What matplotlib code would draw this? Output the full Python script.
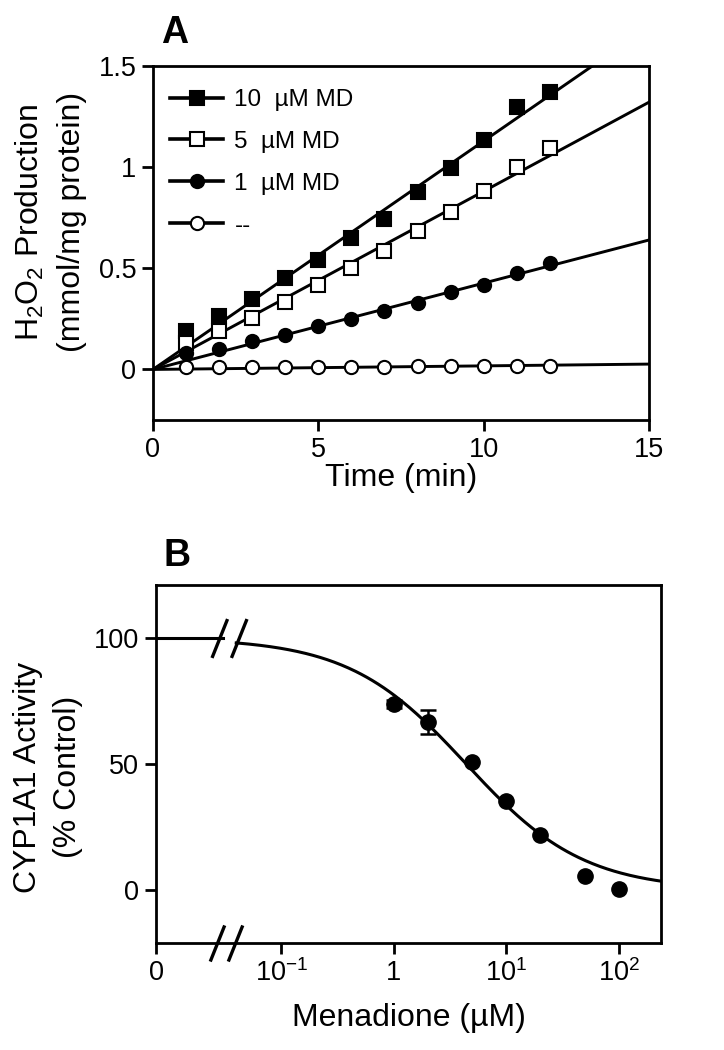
import numpy as np
import matplotlib
matplotlib.use('Agg')
import matplotlib.pyplot as plt
from matplotlib.lines import Line2D
from matplotlib.path import Path

plt.rcParams['font.family'] = ['Liberation Sans', 'DejaVu Sans']
plt.rcParams['mathtext.fontset'] = 'custom'
plt.rcParams['mathtext.rm'] = 'Liberation Sans'
plt.rcParams['mathtext.it'] = 'Liberation Sans:italic'
plt.rcParams['mathtext.bf'] = 'Liberation Sans:bold'

# panel A: H2O2 production vs time
time_min = np.arange(1, 13)
md10 = [0.192, 0.266, 0.348, 0.451, 0.541, 0.648, 0.743, 0.877, 0.995, 1.134, 1.295, 1.372]
md5 = [0.131, 0.189, 0.254, 0.331, 0.415, 0.500, 0.585, 0.685, 0.779, 0.882, 1.003, 1.095]
md1 = [0.082, 0.102, 0.139, 0.172, 0.213, 0.249, 0.287, 0.328, 0.382, 0.418, 0.475, 0.525]
md0 = [0.014, 0.014, 0.014, 0.014, 0.014, 0.014, 0.014, 0.015, 0.015, 0.015, 0.015, 0.015]
labels_a = ['10  \u00b5M MD', '5  \u00b5M MD', '1  \u00b5M MD', '--']

# panel B: CYP1A1 activity vs menadione
dose = [1, 2, 5, 10, 20, 50, 100]
activity = [73.9, 66.8, 50.7, 35.5, 21.8, 5.5, 0.3]
activity_err = [1.5, 4.8, 0, 0, 0, 0, 0]
control_activity = 100
ic50 = 4.4
hill = 0.83

fig = plt.figure(figsize=(7.24, 10.5), dpi=100)

# ---------------- panel A
ax1 = fig.add_axes([153 / 724, 1 - 420 / 1050, (649 - 153) / 724, (420 - 66) / 1050])
xfit = np.linspace(0, 15, 200)
styles = [('s', 'k'), ('s', 'white'), ('o', 'k'), ('o', 'white')]
handles = []
for ys, (mk, fc), lab in zip([md10, md5, md1, md0], styles, labels_a):
    ys = np.array(ys)
    slope = np.sum(time_min * ys) / np.sum(time_min ** 2)
    ax1.plot(xfit, slope * xfit, color='k', lw=2.1, zorder=2)
    ax1.plot(time_min, ys, linestyle='none', marker=mk, ms=10.5 if mk == 's' else 9.5,
             mfc=fc, mec='k', mew=1.5, zorder=3, clip_on=False)
    handles.append(Line2D([], [], color='k', lw=2.6, marker=mk, ms=10.5 if mk == 's' else 9.5,
                          mfc=fc, mec='k', mew=1.5, label=lab))

ax1.set_xlim(0, 15)
ax1.set_ylim(-0.25, 1.5)
ax1.set_xticks([0, 5, 10, 15])
ax1.set_xticklabels(['0', '5', '10', '15'])
ax1.set_yticks([0, 0.5, 1, 1.5])
ax1.set_yticklabels(['0', '0.5', '1', '1.5'])
leg = ax1.legend(handles=handles, loc='upper left', bbox_to_anchor=(0.0, 0.983),
                 frameon=False, fontsize=17.5, handlelength=2.2, handletextpad=0.45,
                 labelspacing=0.82, borderaxespad=0.3, borderpad=0.4, numpoints=1)

fig.text(30 / 724, 1 - 222 / 1050, 'H$_2$O$_2$ Production', rotation=90,
         fontsize=23, ha='center', va='center')
fig.text(72 / 724, 1 - 222 / 1050, '(mmol/mg protein)', rotation=90,
         fontsize=23, ha='center', va='center')
fig.text(175 / 724, 1 - 33 / 1050, 'A', fontsize=27, fontweight='bold', ha='center', va='center')

# ---------------- panel B
zero_pos = -2.113
right_pos = 2.374
ax2 = fig.add_axes([156 / 724, 1 - 943 / 1050, (661 - 156) / 724, (943 - 585) / 1050])
xc = np.linspace(-1.40, right_pos, 300)
curve = control_activity / (1 + (10 ** xc / ic50) ** hill)
ax2.plot(xc, curve, color='k', lw=2.2, zorder=2)
ax2.plot([zero_pos, -1.52], [control_activity, control_activity], color='k', lw=2.2, zorder=2)
err_x = [np.log10(d) for d, e in zip(dose, activity_err) if e > 0]
err_y = [a for a, e in zip(activity, activity_err) if e > 0]
err_v = [e for e in activity_err if e > 0]
ax2.errorbar(err_x, err_y, yerr=err_v, fmt='none', ecolor='k',
             capsize=5.5, elinewidth=1.8, capthick=1.8, zorder=2.5)
ax2.plot(np.log10(dose), activity, 'o', color='k', ms=11, zorder=3, clip_on=False)

brk = Path([(-0.9, -1), (-0.1, 1), (0.1, -1), (0.9, 1)],
           [Path.MOVETO, Path.LINETO, Path.MOVETO, Path.LINETO])
ax2.plot([-1.46], [control_activity], marker=brk, ms=28, mew=2.4, color='k',
         linestyle='none', clip_on=False, zorder=4)
ax2.plot([-1.49], [-21], marker=brk, ms=26, mew=2.4, color='k',
         linestyle='none', clip_on=False, zorder=4)

ax2.set_xlim(zero_pos, right_pos)
ax2.set_ylim(-21, 121)
ax2.set_xticks([zero_pos, -1, 0, 1, 2])
ax2.set_xticklabels(['0', '10$^{-1}$', '1', '10$^{1}$', '10$^{2}$'])
ax2.set_yticks([0, 50, 100])

fig.text(28 / 724, 1 - 777 / 1050, 'CYP1A1 Activity', rotation=90,
         fontsize=23, ha='center', va='center')
fig.text(68 / 724, 1 - 777 / 1050, '(% Control)', rotation=90,
         fontsize=23, ha='center', va='center')
fig.text(177 / 724, 1 - 556 / 1050, 'B', fontsize=27, fontweight='bold', ha='center', va='center')

for ax in (ax1, ax2):
    for sp in ax.spines.values():
        sp.set_linewidth(2)
    ax.tick_params(direction='out', length=8, width=2, labelsize=19.5, pad=4)

ax1.set_xlabel('Time (min)', fontsize=23, labelpad=0)
ax2.set_xlabel('Menadione (\u00b5M)', fontsize=23, labelpad=11)

fig.savefig('out.png', dpi=100)
